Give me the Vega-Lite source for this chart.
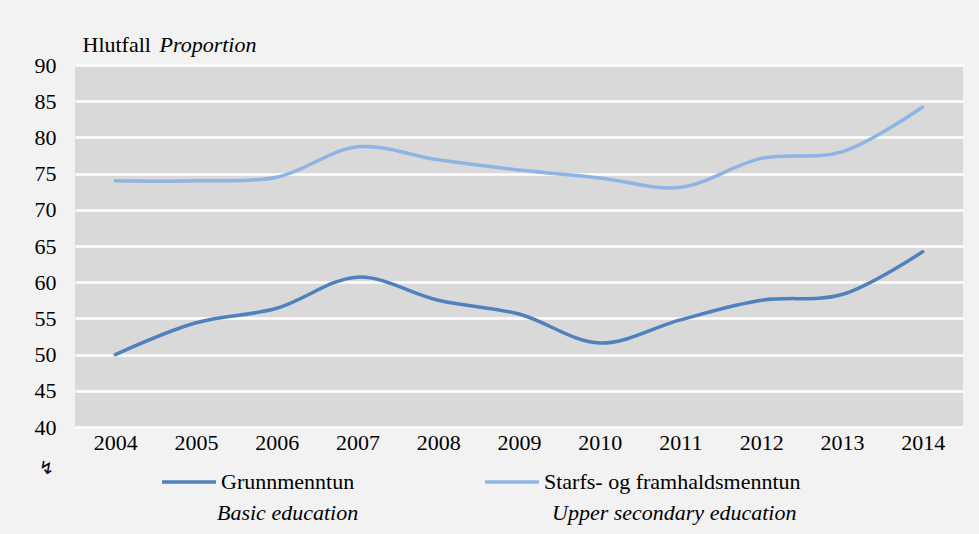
{
  "$schema": "https://vega.github.io/schema/vega-lite/v6.json",
  "width": 888,
  "height": 362,
  "autosize": {"type": "none"},
  "padding": {"left": 75, "top": 65, "right": 16, "bottom": 107},
  "background": "#f2f2f2",
  "title": {
    "text": "↯",
    "anchor": "start",
    "frame": "group",
    "font": "DejaVu Sans",
    "fontSize": 18,
    "fontWeight": "normal",
    "color": "#000000",
    "baseline": "bottom",
    "offset": 0,
    "dx": -36,
    "dy": 463
  },
  "config": {
    "view": {"fill": "#d9d9d9", "stroke": null},
    "font": "Liberation Serif",
    "axis": {"labelFont": "Liberation Serif", "titleFont": "Liberation Serif"},
    "legend": {"labelFont": "Liberation Serif", "titleFont": "Liberation Serif"}
  },
  "data": {
    "values": [
      {"year": "2004", "series": "Grunnmenntun", "en": "Basic education", "value": 50.0},
      {"year": "2005", "series": "Grunnmenntun", "en": "Basic education", "value": 54.4},
      {"year": "2006", "series": "Grunnmenntun", "en": "Basic education", "value": 56.4},
      {"year": "2007", "series": "Grunnmenntun", "en": "Basic education", "value": 60.7},
      {"year": "2008", "series": "Grunnmenntun", "en": "Basic education", "value": 57.5},
      {"year": "2009", "series": "Grunnmenntun", "en": "Basic education", "value": 55.6},
      {"year": "2010", "series": "Grunnmenntun", "en": "Basic education", "value": 51.6},
      {"year": "2011", "series": "Grunnmenntun", "en": "Basic education", "value": 54.8},
      {"year": "2012", "series": "Grunnmenntun", "en": "Basic education", "value": 57.5},
      {"year": "2013", "series": "Grunnmenntun", "en": "Basic education", "value": 58.3},
      {"year": "2014", "series": "Grunnmenntun", "en": "Basic education", "value": 64.2},
      {"year": "2004", "series": "Starfs- og framhaldsmenntun", "en": "Upper secondary education", "value": 74.0},
      {"year": "2005", "series": "Starfs- og framhaldsmenntun", "en": "Upper secondary education", "value": 74.0},
      {"year": "2006", "series": "Starfs- og framhaldsmenntun", "en": "Upper secondary education", "value": 74.5},
      {"year": "2007", "series": "Starfs- og framhaldsmenntun", "en": "Upper secondary education", "value": 78.7},
      {"year": "2008", "series": "Starfs- og framhaldsmenntun", "en": "Upper secondary education", "value": 76.9},
      {"year": "2009", "series": "Starfs- og framhaldsmenntun", "en": "Upper secondary education", "value": 75.5},
      {"year": "2010", "series": "Starfs- og framhaldsmenntun", "en": "Upper secondary education", "value": 74.4},
      {"year": "2011", "series": "Starfs- og framhaldsmenntun", "en": "Upper secondary education", "value": 73.1},
      {"year": "2012", "series": "Starfs- og framhaldsmenntun", "en": "Upper secondary education", "value": 77.1},
      {"year": "2013", "series": "Starfs- og framhaldsmenntun", "en": "Upper secondary education", "value": 78.0},
      {"year": "2014", "series": "Starfs- og framhaldsmenntun", "en": "Upper secondary education", "value": 84.2}
    ]
  },
  "mark": {"type": "line", "interpolate": "catmull-rom", "strokeWidth": 3.5, "strokeCap": "round"},
  "encoding": {
    "x": {
      "field": "year",
      "type": "ordinal",
      "scale": {"paddingInner": 0, "paddingOuter": 0.5},
      "axis": {
        "title": "Proportion",
        "titleFont": "Liberation Serif",
        "titleFontSize": 22,
        "titleFontStyle": "italic",
        "titleFontWeight": "normal",
        "titleColor": "#000000",
        "titleAngle": 0,
        "titleAlign": "left",
        "titleBaseline": "alphabetic",
        "titleX": 84,
        "titleY": -376,
        "labelAngle": 0,
        "labelFont": "Liberation Serif",
        "labelFontSize": 22,
        "labelColor": "#000000",
        "labelPadding": 5,
        "ticks": false,
        "domain": false,
        "grid": false
      }
    },
    "y": {
      "field": "value",
      "type": "quantitative",
      "scale": {"domain": [40, 90], "nice": false, "zero": false},
      "axis": {
        "values": [40, 45, 50, 55, 60, 65, 70, 75, 80, 85, 90],
        "title": "Hlutfall",
        "titleFont": "Liberation Serif",
        "titleFontWeight": "normal",
        "titleFontSize": 22,
        "titleColor": "#000000",
        "titleAngle": 0,
        "titleAlign": "left",
        "titleBaseline": "alphabetic",
        "titleX": 7,
        "titleY": -14,
        "labelFont": "Liberation Serif",
        "labelFontSize": 22,
        "labelColor": "#000000",
        "labelPadding": 19,
        "ticks": false,
        "domain": false,
        "grid": true,
        "gridColor": "#ffffff",
        "gridWidth": 2.5
      }
    },
    "color": {
      "field": "series",
      "type": "nominal",
      "scale": {"domain": ["Grunnmenntun", "Starfs- og framhaldsmenntun"], "range": ["#4F81BD", "#8EB4E3"]},
      "legend": {
        "title": null,
        "orient": "none",
        "legendX": 85,
        "legendY": 388,
        "direction": "horizontal",
        "gridAlign": "all",
        "columnPadding": 0,
        "symbolType": "stroke",
        "symbolSize": 2900,
        "symbolStrokeWidth": 3.5,
        "labelFont": "Liberation Serif",
        "labelFontSize": 22,
        "labelColor": "#000000",
        "labelOffset": 3,
        "labelLimit": 400
      }
    },
    "opacity": {
      "field": "en",
      "type": "nominal",
      "scale": {"domain": ["Basic education", "Upper secondary education"], "range": [1, 1]},
      "legend": {
        "title": null,
        "orient": "none",
        "legendX": 120,
        "legendY": 437,
        "direction": "horizontal",
        "gridAlign": "all",
        "columnPadding": 68,
        "symbolType": "circle",
        "symbolSize": 1,
        "symbolOpacity": 0,
        "symbolStrokeWidth": 0,
        "labelFont": "Liberation Serif",
        "labelFontSize": 22,
        "labelFontStyle": "italic",
        "labelColor": "#000000",
        "labelOffset": 0,
        "labelLimit": 400
      }
    }
  }
}
